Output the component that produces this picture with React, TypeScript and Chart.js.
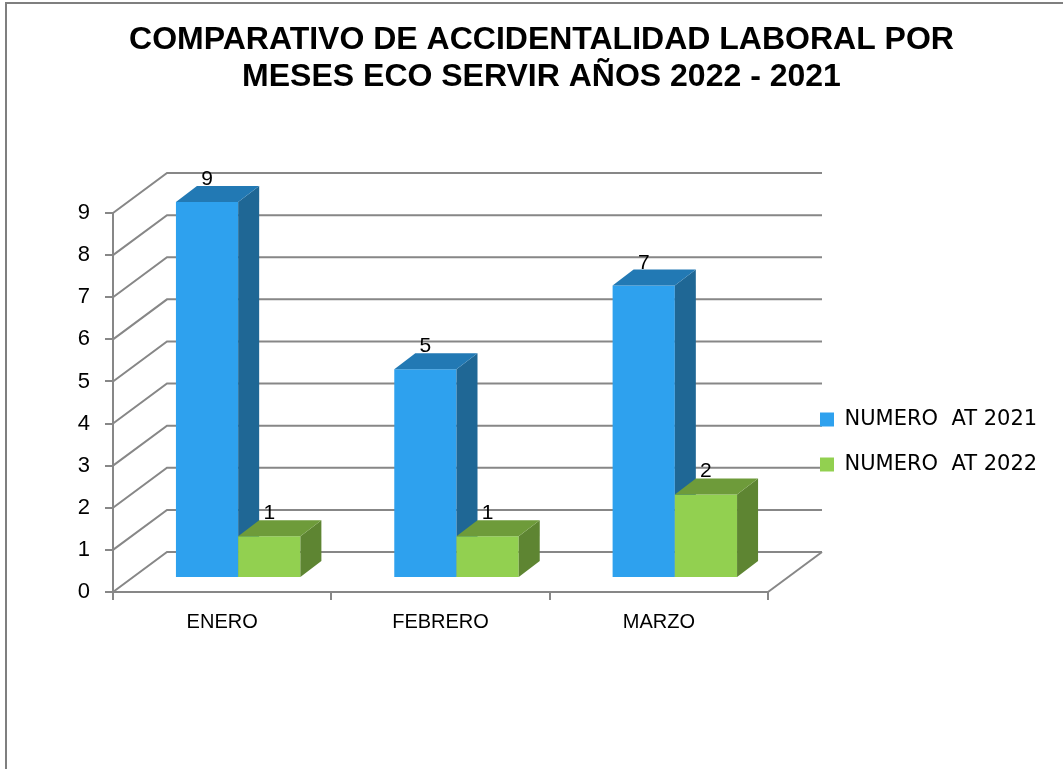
import React, { useEffect, useRef } from 'react';
import { Chart, registerables } from 'chart.js';

Chart.register(...registerables);

// ---------- data ----------
const months = ['ENERO', 'FEBRERO', 'MARZO'];
const at2021 = [9, 5, 7];
const at2022 = [1, 1, 2];
const seriesLabels = ['NUMERO  AT 2021', 'NUMERO  AT 2022'];
const titleLines = ['COMPARATIVO DE ACCIDENTALIDAD LABORAL POR', 'MESES ECO SERVIR AÑOS 2022 - 2021'];
const yMin = 0;
const yMax = 9;

// ---------- styles ----------
const FONT = "'Liberation Sans', Arial, sans-serif";
const LEGEND_FONT = "'DejaVu Sans', 'Liberation Sans', sans-serif";
const FRONT = ['#2EA1EE', '#92D050'];
const SIDE = ['#1F6795', '#5E8532'];
const TOP = ['#2279B4', '#6E9B3A'];
const GRID = '#878787';

// 3D geometry (pixel offsets)
const WALL_DX = 54;
const WALL_DY = -40;
const BAR_DX = 16;
const BAR_DY = -14;
const BAR_SCALE = 0.992;
const DEPTH_DX = 21;
const DEPTH_DY = -16;
const LEGEND_W = 295;
const LEGEND_BOX_GAP = 2;
const LEGEND_TOP = 385;

const threeD = {
  id: 'threeD',
  beforeLayout(chart: any) {
    const lg = chart.legend;
    if (lg && !lg._patchedFit) {
      const orig = lg.fit.bind(lg);
      lg.fit = function () {
        orig();
        this.width = LEGEND_W;
      };
      // draw legend above the walls
      lg._layers = () => [{ z: 1, draw: (ca: any) => lg.draw(ca) }];
      lg._patchedFit = true;
    }
  },
  afterLayout(chart: any) {
    const lg = chart.legend;
    if (!lg) return;
    const ca = chart.chartArea;
    const pad = lg.options.labels.padding;
    lg.left = ca.right + WALL_DX - LEGEND_BOX_GAP - pad;
    lg.right = chart.width;
    lg.width = lg.right - lg.left;
    lg.top = LEGEND_TOP;
    lg.bottom = chart.height - 5;
    lg.height = lg.bottom - lg.top;
  },
  beforeDatasetsDraw(chart: any) {
    const { ctx, chartArea: ca } = chart;
    const y = chart.scales.y;
    ctx.save();
    ctx.strokeStyle = GRID;
    ctx.lineWidth = 2;
    y.ticks.forEach((t: any) => {
      const py = y.getPixelForValue(t.value);
      ctx.beginPath();
      ctx.moveTo(ca.left, py);
      ctx.lineTo(ca.left + WALL_DX, py + WALL_DY);
      ctx.lineTo(ca.right + WALL_DX, py + WALL_DY);
      ctx.stroke();
    });
    const p0 = y.getPixelForValue(yMin);
    ctx.beginPath();
    ctx.moveTo(ca.right, p0);
    ctx.lineTo(ca.right + WALL_DX, p0 + WALL_DY);
    ctx.stroke();
    ctx.restore();
  },
  beforeDatasetDraw() {
    // bars are drawn in 3D order in afterDatasetsDraw
    return false;
  },
  afterDatasetsDraw(chart: any) {
    const ctx = chart.ctx;
    const n = chart.data.datasets.length;
    const nCat = chart.data.labels.length;
    const base0 = chart.scales.y.getPixelForValue(yMin);
    const ty = (v: number) => base0 + BAR_DY + (v - base0) * BAR_SCALE;
    ctx.save();
    ctx.translate(BAR_DX, base0 + BAR_DY);
    ctx.scale(1, BAR_SCALE);
    ctx.translate(0, -base0);
    for (let j = 0; j < nCat; j++) {
      for (let i = 0; i < n; i++) {
        const meta = chart.getDatasetMeta(i);
        const bar: any = meta.data[j];
        if (!bar) continue;
        bar.draw(ctx);
        const { x, y, base, width } = bar.getProps(['x', 'y', 'base', 'width'], true);
        const l = x - width / 2;
        const r = x + width / 2;
        const dy = DEPTH_DY / BAR_SCALE;
        ctx.fillStyle = SIDE[i];
        ctx.beginPath();
        ctx.moveTo(r, y);
        ctx.lineTo(r + DEPTH_DX, y + dy);
        ctx.lineTo(r + DEPTH_DX, base + dy);
        ctx.lineTo(r, base);
        ctx.closePath();
        ctx.fill();
        ctx.fillStyle = TOP[i];
        ctx.beginPath();
        ctx.moveTo(l, y);
        ctx.lineTo(l + DEPTH_DX, y + dy);
        ctx.lineTo(r + DEPTH_DX, y + dy);
        ctx.lineTo(r, y);
        ctx.closePath();
        ctx.fill();
      }
    }
    ctx.restore();

    // value labels
    ctx.save();
    ctx.font = `21px ${FONT}`;
    ctx.fillStyle = '#000';
    ctx.textAlign = 'center';
    ctx.textBaseline = 'alphabetic';
    chart.data.datasets.forEach((ds: any, i: number) => {
      const meta = chart.getDatasetMeta(i);
      meta.data.forEach((bar: any, j: number) => {
        ctx.fillText(String(ds.data[j]), bar.x + BAR_DX, ty(bar.y) - 17);
      });
    });
    ctx.restore();
  },
};

export default function App() {
  const ref = useRef<HTMLCanvasElement>(null);
  useEffect(() => {
    Chart.defaults.font.family = FONT;
    Chart.defaults.color = '#000';
    const chart = new Chart(ref.current!, {
      type: 'bar',
      data: {
        labels: months,
        datasets: [
          {
            label: seriesLabels[0],
            data: at2021,
            backgroundColor: FRONT[0],
            borderWidth: 0,
            categoryPercentage: 0.57,
            barPercentage: 1,
          },
          {
            label: seriesLabels[1],
            data: at2022,
            backgroundColor: FRONT[1],
            borderWidth: 0,
            categoryPercentage: 0.57,
            barPercentage: 1,
          },
        ],
      },
      options: {
        responsive: false,
        animation: false,
        layout: { padding: { left: 20, right: 0, top: 0, bottom: 0 } },
        plugins: {
          title: {
            display: true,
            text: titleLines,
            color: '#000',
            font: { family: FONT, size: 32, weight: 'bold', lineHeight: 1.18 },
            padding: { top: 21, bottom: 116.5 },
          },
          legend: {
            display: true,
            position: 'right',
            align: 'start',
            labels: {
              boxWidth: 14,
              boxHeight: 14,
              padding: 24,
              color: '#000',
              font: { family: LEGEND_FONT, size: 21 },
            },
          },
          tooltip: { enabled: false },
        },
        scales: {
          x: {
            offset: true,
            grid: {
              display: true,
              drawOnChartArea: false,
              offset: true,
              tickLength: 8,
              color: GRID,
              lineWidth: 2,
            },
            border: { display: true, color: GRID, width: 2 },
            ticks: { color: '#000', font: { size: 20 }, padding: 10 },
            afterFit: (s: any) => {
              s.height = 177;
            },
          },
          y: {
            min: yMin,
            max: yMax,
            ticks: { stepSize: 1, color: '#000', font: { size: 22 }, padding: 15 },
            grid: { drawOnChartArea: false, tickLength: 8, color: GRID, lineWidth: 2 },
            border: { display: true, color: GRID, width: 2 },
            afterFit: (s: any) => {
              s.width = 93;
            },
          },
        },
      },
      plugins: [threeD],
    } as any);
    return () => chart.destroy();
  }, []);

  return (
    <div
      style={{
        position: 'fixed',
        left: 0,
        top: 0,
        width: 1063,
        height: 769,
        background: '#fff',
        overflow: 'hidden',
      }}
    >
      <div
        style={{
          position: 'absolute',
          left: 5,
          top: 2,
          width: 1120,
          height: 820,
          border: '2px solid #7f7f7f',
          boxSizing: 'border-box',
        }}
      />
      <canvas
        ref={ref}
        width={1063}
        height={769}
        style={{ position: 'absolute', left: 0, top: 0, width: 1063, height: 769 }}
      />
    </div>
  );
}
